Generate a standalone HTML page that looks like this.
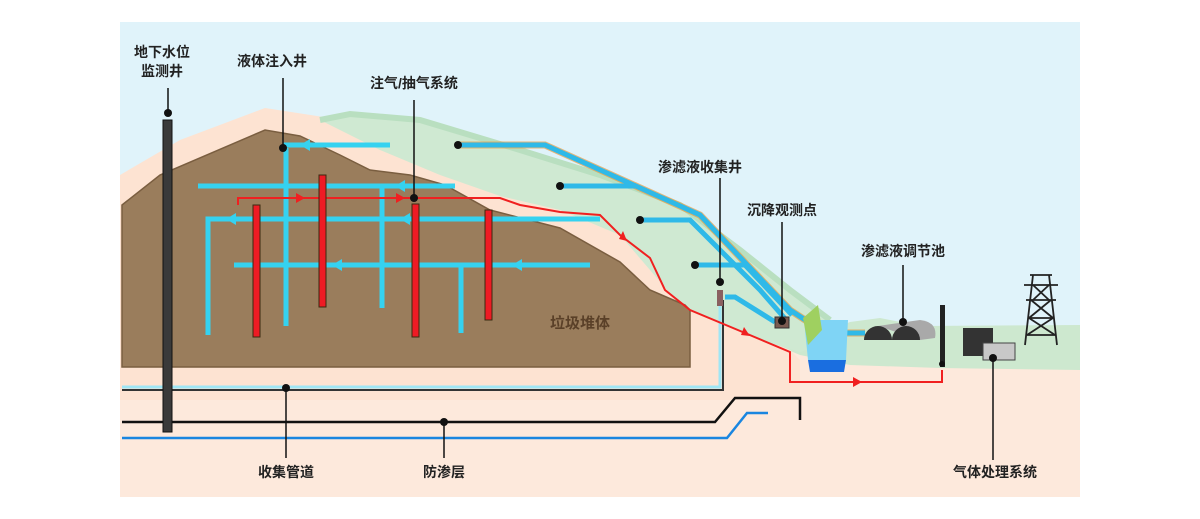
<!DOCTYPE html>
<html><head><meta charset="utf-8"><style>
html,body{margin:0;padding:0;background:#fff;}
svg{display:block;}
text{font-family:"Liberation Sans","Noto Sans CJK SC",sans-serif;font-size:14px;font-weight:bold;fill:#222;text-anchor:middle;}
</style></head><body>
<svg width="1200" height="519" viewBox="0 0 1200 519" xmlns="http://www.w3.org/2000/svg">
<rect width="1200" height="519" fill="#fff"/>
<rect x="120" y="22" width="960" height="475" fill="#e0f3fa"/>
<rect x="120" y="330" width="960" height="167" fill="#fde9dc"/>
<path d="M740,330 L760,320 L830,330 L850,322 L880,318 L920,326 L1080,325 L1080,370 L940,368 L850,365 L800,355 Z" fill="#cde8cf"/>
<path d="M120,175 L180,140 L265,108 L330,118 L400,158 L470,182 L540,198 L600,215 L640,250 L670,290 L720,320 L790,350 L800,360 L800,400 L120,400 Z" fill="#fde3d2"/>
<path d="M320,120 L350,114 L420,120 L520,150 L600,175 L680,205 L740,250 L790,290 L830,320 L840,340 L800,352 L760,340 L720,322 L680,305 L650,270 L620,235 L560,210 L500,196 L440,175 L380,150 Z" fill="#cfe9d2"/>
<path d="M320,120 L350,114 L420,120 L520,150 L600,175 L680,205 L740,250 L790,290 L830,320" fill="none" stroke="#b9dfc0" stroke-width="6"/>
<path d="M122,205 L160,175 L265,130 L300,136 L340,155 L370,170 L410,175 L445,185 L490,210 L560,228 L620,262 L650,290 L685,305 L690,310 L690,367 L122,367 Z" fill="#9a7d5c" stroke="#7a5e40" stroke-width="1.5"/>
<text x="580" y="328" style="fill:#5a4028;font-size:15px">垃圾堆体</text>
<path d="M122,387 L720,387 L720,292" fill="none" stroke="#9ee6f5" stroke-width="3"/>
<path d="M122,390 L723,390 L723,300" fill="none" stroke="#333" stroke-width="2"/>
<rect x="717" y="290" width="6" height="16" fill="#8a6060"/>
<path d="M122,422 L715,422 L735,398 L800,398 L800,420" fill="none" stroke="#111" stroke-width="2.5"/>
<path d="M122,438 L727,438 L747,413 L768,413" fill="none" stroke="#1a86e0" stroke-width="2.5"/>
<g stroke="#35d2f0" stroke-width="5" fill="none">
<path d="M283,145 L390,145"/>
<path d="M286,148 L286,326"/>
<path d="M198,186 L455,186"/>
<path d="M382,186 L382,308"/>
<path d="M208,335 L208,219 L600,219"/>
<path d="M234,265 L590,265"/>
<path d="M461,265 L461,333"/>
</g>
<g fill="#35d2f0">
<path d="M300,145 l10,-6 v12z"/><path d="M395,186 l10,-6 v12z"/><path d="M226,219 l10,-6 v12z"/><path d="M400,219 l10,-6 v12z"/><path d="M332,265 l10,-6 v12z"/><path d="M512,265 l10,-6 v12z"/>
</g>
<path d="M238,205 L238,198 L500,198 L520,205 L560,212 L600,215 L620,235 L650,258 L665,290 L690,310 L745,333 L790,352 L790,382 L942,382 L942,370" fill="none" stroke="#f02020" stroke-width="2"/>
<g fill="#f02020"><path d="M305,198 l-9,-5 v10z"/><path d="M405,198 l-9,-5 v10z"/><path d="M627,241 l-8,-2 4,-8z"/><path d="M750,336 l-9,-1 3,-8z"/><path d="M862,382 l-9,-5 v10z"/></g>
<g stroke="#3a2a10" stroke-width="1">
<rect x="253" y="205" width="7" height="132" fill="#ee1b24"/>
<rect x="319" y="175" width="7" height="132" fill="#ee1b24"/>
<rect x="412" y="204" width="7" height="133" fill="#ee1b24"/>
<rect x="485" y="210" width="7" height="110" fill="#ee1b24"/>
</g>
<g stroke="#e89a40" stroke-width="7" fill="none" opacity="0.7">
<path d="M458,145 L545,145 L700,215 L790,310 L825,333 L865,333"/>
</g>
<g stroke="#2fb9e8" stroke-width="5" fill="none">
<path d="M458,145 L545,145 L700,215 L790,310 L825,333 L865,333"/>
<path d="M560,186 L636,186"/>
<path d="M640,220 L690,220 L760,290 L788,322"/>
<path d="M695,265 L745,265 L792,315"/>
<path d="M725,297 L735,297 L775,322"/>
</g>
<g fill="#111"><circle cx="458" cy="145" r="4"/><circle cx="560" cy="186" r="4"/><circle cx="640" cy="220" r="4"/><circle cx="695" cy="265" r="4"/></g>
<rect x="775" y="317" width="14" height="11" fill="#7a5a50" stroke="#333"/>
<path d="M804,320 L848,320 L846,360 L808,360 Z" fill="#7fd4f5"/>
<path d="M808,360 L846,360 L844,372 L810,372 Z" fill="#1a6ee0"/>
<path d="M803,318 L818,305 L822,330 L808,345 Z" fill="#9fd060"/>
<path d="M878,326 L920,320 Q938,322 935,338 L920,340 Z" fill="#a9a9a9"/>
<path d="M864,340 A14,14 0 0 1 892,340 Z" fill="#333"/>
<path d="M892,340 A14,14 0 0 1 920,340 Z" fill="#333"/>
<rect x="940" y="305" width="5" height="62" fill="#222"/>
<rect x="963" y="328" width="30" height="28" fill="#333"/>
<rect x="983" y="343" width="32" height="17" fill="#c8c8c8" stroke="#444"/>
<g stroke="#222" stroke-width="1.8" fill="none">
<path d="M1033,275 L1025,345 M1049,275 L1057,345 M1024,285 L1058,285 M1026,300 L1056,300 M1030,275 L1052,275"/>
<path d="M1033,285 L1049,300 M1049,285 L1033,300 M1031,300 L1053,318 M1051,300 L1029,318 M1029,318 L1055,335 M1053,318 L1027,335 M1028,318 L1054,318 M1027,335 L1056,335"/>
</g>
<rect x="163" y="120" width="9" height="312" fill="#3a3a3a" stroke="#111"/>
<g stroke="#111" stroke-width="1.5">
<line x1="168" y1="88" x2="168" y2="113"/>
<line x1="283" y1="78" x2="283" y2="148"/>
<line x1="414" y1="100" x2="414" y2="198"/>
<line x1="720" y1="178" x2="720" y2="282"/>
<line x1="782" y1="222" x2="782" y2="320"/>
<line x1="903" y1="265" x2="903" y2="322"/>
<line x1="993" y1="360" x2="993" y2="460"/>
<line x1="286" y1="388" x2="286" y2="458"/>
<line x1="444" y1="422" x2="444" y2="458"/>
</g>
<g fill="#111">
<circle cx="168" cy="113" r="4"/><circle cx="283" cy="148" r="4"/><circle cx="414" cy="198" r="4"/><circle cx="720" cy="282" r="4"/><circle cx="782" cy="321" r="4"/><circle cx="903" cy="322" r="4"/><circle cx="993" cy="358" r="4"/><circle cx="286" cy="388" r="4"/><circle cx="444" cy="422" r="4"/><circle cx="942" cy="364" r="3"/>
</g>
<text x="162" y="57">地下水位</text>
<text x="162" y="76">监测井</text>
<text x="272" y="66">液体注入井</text>
<text x="414" y="88">注气/抽气系统</text>
<text x="700" y="172">渗滤液收集井</text>
<text x="782" y="215">沉降观测点</text>
<text x="903" y="256">渗滤液调节池</text>
<text x="995" y="477">气体处理系统</text>
<text x="286" y="477">收集管道</text>
<text x="444" y="477">防渗层</text>
</svg>
</body></html>
